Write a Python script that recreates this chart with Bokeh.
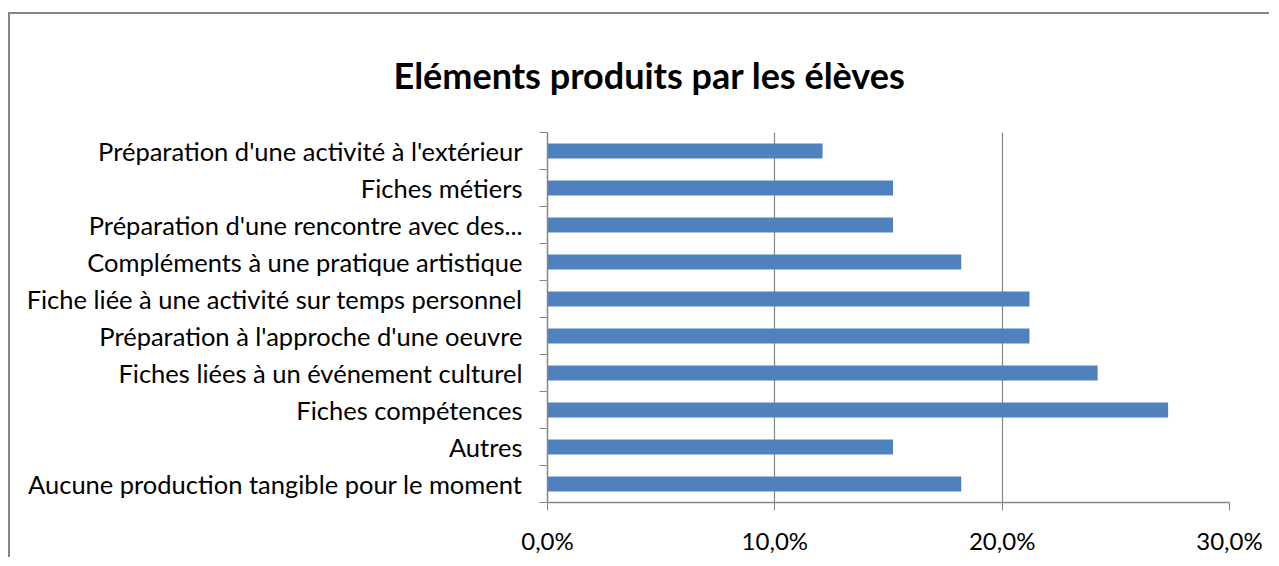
from bokeh.plotting import figure
from bokeh.models import FactorRange, Range1d, LinearAxis, FixedTicker, ColumnDataSource
from bokeh.embed import file_html
from bokeh.resources import INLINE

# Data (bottom to top, as drawn)
categories = [
    "Aucune production tangible pour le moment",
    "Autres",
    "Fiches compétences",
    "Fiches liées à un événement culturel",
    "Préparation à l'approche d'une oeuvre",
    "Fiche liée à une activité sur temps personnel",
    "Compléments à une pratique artistique",
    "Préparation d'une rencontre avec des...",
    "Fiches métiers",
    "Préparation d'une activité à l'extérieur",
]
values = [18.2, 15.2, 27.3, 24.2, 21.2, 21.2, 18.2, 15.2, 15.2, 12.1]
x_ticks = [0, 10, 20, 30]
x_tick_labels = ["0,0%", "10,0%", "20,0%", "30,0%"]
title_text = "Eléments produits par les élèves"

FONT = "Lato"
GRAY = "#868686"
BAR = "#4F81BD"

W, H = 1261, 545
ML, MT, FW, FH = 537, 110, 682, 378

p = figure(width=W, height=H, output_backend="svg", toolbar_location=None,
           y_range=FactorRange(*categories), x_range=Range1d(0, 30),
           y_axis_location=None, x_axis_location="below",
           min_border_left=ML, min_border_top=MT,
           min_border_right=W - ML - FW, min_border_bottom=H - MT - FH,
           tools="")
p.styles = {"border-left": "2px solid #868686", "border-top": "2px solid #868686",
            "margin-top": "12px", "margin-left": "8px"}
p.outline_line_color = None
p.background_fill_color = "white"
p.border_fill_color = "white"

# title
p.title.text = title_text
p.title.align = "left"
p.title.offset = -154
p.title.standoff = 72
p.title.text_font = FONT
p.title.text_font_style = "bold"
p.title.text_font_size = "36px"
p.title.text_color = "black"

src = ColumnDataSource(dict(cat=categories, val=values))
p.hbar(y="cat", right="val", left=0, height=0.4, source=src,
       fill_color=BAR, line_color=None)

# x axis
xa = p.xaxis[0]
xa.ticker = FixedTicker(ticks=x_ticks)
xa.major_label_overrides = {t: l for t, l in zip(x_ticks, x_tick_labels)}
xa.minor_tick_line_color = None
xa.major_tick_in = 0
xa.major_tick_out = 8
xa.major_tick_line_color = GRAY
xa.axis_line_color = GRAY
xa.axis_line_width = 1.5
xa.major_label_text_font = FONT
xa.major_label_text_font_size = "24px"
xa.major_label_text_color = "black"
xa.major_label_standoff = 15

p.xgrid.ticker = FixedTicker(ticks=x_ticks)
p.xgrid.grid_line_color = GRAY
p.xgrid.grid_line_width = 1.2
p.ygrid.grid_line_color = None

# y axis: labels at category centres, tick marks at category boundaries
n = len(categories)
centres = [i + 0.5 for i in range(n)]
ya = LinearAxis(ticker=FixedTicker(ticks=centres, minor_ticks=list(range(n + 1))))
ya.major_label_overrides = {c: cat for c, cat in zip(centres, categories)}
ya.major_tick_line_color = None
ya.major_tick_in = 0
ya.major_tick_out = 8
ya.minor_tick_in = 0
ya.minor_tick_out = 8
ya.minor_tick_line_color = GRAY
ya.axis_line_color = GRAY
ya.axis_line_width = 1.5
ya.major_label_text_font = FONT
ya.major_label_text_font_size = "25.5px"
ya.major_label_text_color = "black"
ya.major_label_standoff = 17
p.add_layout(ya, "left")

open("out.html", "w").write(file_html(p, INLINE))
